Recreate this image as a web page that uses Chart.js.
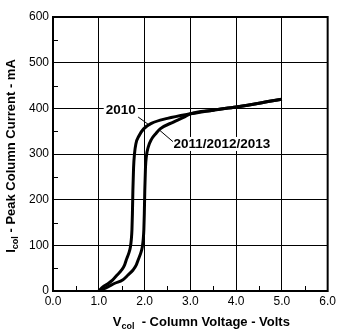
<!DOCTYPE html>
<html>
<head>
<meta charset="utf-8">
<script src="https://cdn.jsdelivr.net/npm/chart.js@4/dist/chart.umd.min.js"></script>
<style>
html,body{margin:0;padding:0;background:#fff;}
#wrap{width:339px;height:330px;}
</style>
</head>
<body>
<div id="wrap"><canvas id="c" width="339" height="330"></canvas></div>
<script>
// ---- data ----
const voltage2010 = [1.0, 1.09, 1.2, 1.30, 1.40, 1.50, 1.56, 1.60, 1.66, 1.69, 1.71, 1.725, 1.735, 1.745, 1.76, 1.78, 1.81, 1.88, 1.98, 2.15, 2.5, 3.0, 3.5, 4.0, 4.5, 5.0];
const current2010 = [0, 9, 16, 24, 35, 46, 56, 68, 84, 96, 112, 135, 170, 220, 270, 300, 322, 340, 355, 367, 378, 388, 396, 403, 411, 420];
const voltage2011 = [1.0, 1.2, 1.35, 1.52, 1.64, 1.75, 1.82, 1.86, 1.92, 1.95, 1.97, 1.985, 1.995, 2.005, 2.02, 2.04, 2.08, 2.15, 2.25, 2.34, 2.63, 2.85, 3.0, 3.5, 4.0, 4.5, 5.0];
const current2011 = [0, 9, 17, 24, 35, 46, 57, 68, 84, 96, 112, 135, 170, 220, 270, 295, 315, 332, 345, 355, 370, 380, 388, 396, 403, 411, 420];
const xTicks = [0, 1, 2, 3, 4, 5, 6];
const yTicks = [0, 100, 200, 300, 400, 500, 600];
const seriesNames = ["2010", "2011/2012/2013"];
// label anchor points (data units) and the curve points their leaders reach
const labelAt = [{x: 1.48, y: 396}, {x: 2.63, y: 322}];
const leaderFrom = [{x: 1.86, y: 381}, {x: 2.62, y: 327}];
const leaderTo = [{x: 2.12, y: 362}, {x: 2.33, y: 352}];

const FONT = "'Liberation Sans', Arial, Helvetica, sans-serif";

function pts(xs, ys) { return xs.map((x, i) => ({x: x, y: ys[i]})); }

const decorPlugin = {
  id: 'decor',
  beforeDatasetsDraw(chart) {
    const ctx = chart.ctx, a = chart.chartArea;
    const xs = chart.scales.x, ys = chart.scales.y;
    ctx.save();
    ctx.strokeStyle = '#000';
    ctx.lineWidth = 1;
    // minor inward ticks
    for (let v = 0.5; v < 6; v += 1) {
      const px = Math.round(xs.getPixelForValue(v)) + 0.5;
      ctx.beginPath(); ctx.moveTo(px, a.bottom); ctx.lineTo(px, a.bottom - 5); ctx.stroke();
    }
    for (let v = 50; v < 600; v += 100) {
      const py = Math.round(ys.getPixelForValue(v)) + 0.5;
      ctx.beginPath(); ctx.moveTo(a.left, py); ctx.lineTo(a.left + 5, py); ctx.stroke();
    }
    // series labels with white backing and leader lines
    ctx.font = 'bold 13.5px ' + FONT;
    ctx.textBaseline = 'middle';
    seriesNames.forEach((name, i) => {
      const lx = xs.getPixelForValue(labelAt[i].x), ly = ys.getPixelForValue(labelAt[i].y);
      const w = ctx.measureText(name).width;
      const left = i === 0 ? lx - w / 2 : lx;
      ctx.fillStyle = '#fff';
      ctx.fillRect(left - 2, ly - 7, w + 4, 14);
      ctx.fillStyle = '#000';
      ctx.textAlign = 'left';
      ctx.fillText(name, left, ly + 0.5);
      ctx.beginPath();
      ctx.moveTo(xs.getPixelForValue(leaderFrom[i].x), ys.getPixelForValue(leaderFrom[i].y));
      ctx.lineTo(xs.getPixelForValue(leaderTo[i].x), ys.getPixelForValue(leaderTo[i].y));
      ctx.stroke();
    });
    ctx.restore();
  },
  afterDraw(chart) {
    const ctx = chart.ctx, a = chart.chartArea;
    ctx.save();
    ctx.strokeStyle = '#000';
    ctx.lineWidth = 2;
    ctx.strokeRect(a.left, a.top, a.right - a.left, a.bottom - a.top);
    ctx.fillStyle = '#000';
    ctx.textBaseline = 'alphabetic';
    const big = 'bold 13px ' + FONT, small = 'bold 9px ' + FONT;
    const drawSub = (main, sub, rest, x0, y0) => {
      ctx.font = big; const w1 = ctx.measureText(main).width;
      ctx.font = small; const w2 = ctx.measureText(sub).width;
      ctx.font = big; const w3 = ctx.measureText(rest).width;
      const total = w1 + w2 + w3;
      let x = x0 - total / 2;
      ctx.textAlign = 'left';
      ctx.font = big; ctx.fillText(main, x, y0); x += w1;
      ctx.font = small; ctx.fillText(sub, x, y0 + 3); x += w2;
      ctx.font = big; ctx.fillText(rest, x, y0);
    };
    drawSub('V', 'col', '  - Column Voltage - Volts', (a.left + a.right) / 2 + 11, a.bottom + 35);
    ctx.translate(15, (a.top + a.bottom) / 2 + 2);
    ctx.rotate(-Math.PI / 2);
    drawSub('I', 'col', ' - Peak Column Current - mA', 0, 0);
    ctx.restore();
  }
};

const gridColor = (ctx, majors) => {
  const v = ctx.tick ? ctx.tick.value : null;
  return (v !== null && majors.includes(v)) ? '#000' : 'rgba(0,0,0,0)';
};

new Chart(document.getElementById('c'), {
  type: 'line',
  data: {
    datasets: [
      {label: seriesNames[0], data: pts(voltage2010, current2010), borderColor: '#000', borderWidth: 3, pointRadius: 0, cubicInterpolationMode: 'monotone', fill: false},
      {label: seriesNames[1], data: pts(voltage2011, current2011), borderColor: '#000', borderWidth: 3, pointRadius: 0, cubicInterpolationMode: 'monotone', fill: false}
    ]
  },
  options: {
    responsive: false,
    animation: false,
    events: [],
    layout: {padding: {top: 17, right: 11, left: 0, bottom: 0}},
    plugins: {legend: {display: false}, tooltip: {enabled: false}},
    scales: {
      x: {
        type: 'linear', min: 0, max: 6,
        afterFit: s => { s.height = 39; },
        ticks: {
          stepSize: 1, color: '#000', padding: 3, maxRotation: 0, autoSkip: false,
          font: {family: FONT, size: 12},
          callback: v => xTicks.includes(v) ? v.toFixed(1) : ''
        },
        grid: {color: c => gridColor(c, [1, 2, 3, 4, 5]), lineWidth: 1, drawTicks: false},
        border: {display: false}
      },
      y: {
        type: 'linear', min: 0, max: 600,
        afterFit: s => { s.width = 53; },
        ticks: {
          stepSize: 100, color: '#000', padding: 4, autoSkip: false,
          font: {family: FONT, size: 12},
          callback: v => yTicks.includes(v) ? String(v) : ''
        },
        grid: {color: c => gridColor(c, [100, 200, 300, 400, 500]), lineWidth: 1, drawTicks: false},
        border: {display: false}
      }
    }
  },
  plugins: [decorPlugin]
});
</script>
</body>
</html>
